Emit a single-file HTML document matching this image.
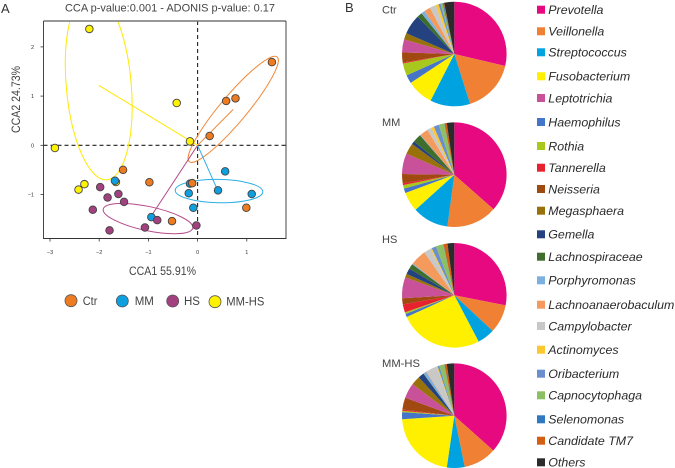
<!DOCTYPE html>
<html>
<head>
<meta charset="utf-8">
<style>
html,body{margin:0;padding:0;background:#fff;}
svg{display:block;font-family:"Liberation Sans",sans-serif;}
.leg text{font-style:italic;font-size:12.4px;fill:#2a2a2a;}
</style>
</head>
<body>
<svg id="fig" width="675" height="468" viewBox="0 0 675 468" xmlns="http://www.w3.org/2000/svg">
  <defs><clipPath id="plot-clip"><rect x="43.5" y="21" width="242.5" height="217.5"></rect></clipPath></defs>
  <text x="1" y="13" font-size="13" fill="#333">A</text>
  <text x="345" y="12" font-size="13" fill="#333">B</text>
  <text x="65" y="11.5" font-size="11.4" fill="#444" textLength="210" lengthAdjust="spacingAndGlyphs">CCA p-value:0.001 - ADONIS p-value: 0.17</text>
  <text x="129" y="275" font-size="11.5" fill="#444" textLength="67" lengthAdjust="spacingAndGlyphs">CCA1 55.91%</text>
  <text transform="translate(20,133) rotate(-90)" font-size="11.5" fill="#444" textLength="67" lengthAdjust="spacingAndGlyphs">CCA2 24.73%</text>

  <g id="scatter"></g>

  <g font-size="11.5" fill="#444">
    <circle cx="71" cy="300.7" r="6" fill="#ef7b21" stroke="#555" stroke-width="0.8"></circle>
    <text x="82.7" y="305" textLength="14.7" lengthAdjust="spacingAndGlyphs">Ctr</text>
    <circle cx="122.3" cy="301" r="6" fill="#0e9fe0" stroke="#555" stroke-width="0.8"></circle>
    <text x="134.7" y="305">MM</text>
    <circle cx="172.7" cy="301" r="6" fill="#a24080" stroke="#555" stroke-width="0.8"></circle>
    <text x="184" y="305">HS</text>
    <circle cx="215" cy="301.7" r="6" fill="#fff200" stroke="#555" stroke-width="0.8"></circle>
    <text x="226.3" y="305.5" textLength="38" lengthAdjust="spacingAndGlyphs">MM-HS</text>
  </g>

  <g id="pies"></g>
  <g font-size="11" fill="#444">
    <text x="382" y="13.5">Ctr</text>
    <text x="382" y="126">MM</text>
    <text x="382" y="243">HS</text>
    <text x="382" y="367" textLength="38" lengthAdjust="spacingAndGlyphs">MM-HS</text>
  </g>

  <g class="leg">
    <rect x="537" y="5.7" width="8" height="8" fill="#e6097f"></rect><text x="548.3" y="14">Prevotella</text>
    <rect x="537" y="27.3" width="8" height="8" fill="#f08033"></rect><text x="548.3" y="35.6">Veillonella</text>
    <rect x="537" y="48.3" width="8" height="8" fill="#00a3e0"></rect><text x="548.3" y="56.6">Streptococcus</text>
    <rect x="537" y="72.3" width="8" height="8" fill="#fff000"></rect><text x="548.3" y="80.6">Fusobacterium</text>
    <rect x="537" y="94" width="8" height="8" fill="#c9519a"></rect><text x="548.3" y="102.3">Leptotrichia</text>
    <rect x="537" y="118" width="8" height="8" fill="#4674c8"></rect><text x="548.3" y="126.3">Haemophilus</text>
    <rect x="537" y="142" width="8" height="8" fill="#a9c81e"></rect><text x="548.3" y="150.3">Rothia</text>
    <rect x="537" y="163.7" width="8" height="8" fill="#e8212f"></rect><text x="548.3" y="172">Tannerella</text>
    <rect x="537" y="185" width="8" height="8" fill="#a04a12"></rect><text x="548.3" y="193.3">Neisseria</text>
    <rect x="537" y="206.7" width="8" height="8" fill="#98710a"></rect><text x="548.3" y="215">Megasphaera</text>
    <rect x="537" y="230.3" width="8" height="8" fill="#23427f"></rect><text x="548.3" y="238.6">Gemella</text>
    <rect x="537" y="252.7" width="8" height="8" fill="#3f6d2b"></rect><text x="548.3" y="261">Lachnospiraceae</text>
    <rect x="537" y="276.3" width="8" height="8" fill="#7cb0e0"></rect><text x="548.3" y="284.6">Porphyromonas</text>
    <rect x="537" y="300.7" width="8" height="8" fill="#f39a5c"></rect><text x="548.3" y="309">Lachnoanaerobaculum</text>
    <rect x="537" y="322" width="8" height="8" fill="#c8c8c8"></rect><text x="548.3" y="330.3">Campylobacter</text>
    <rect x="537" y="345.7" width="8" height="8" fill="#fdc82f"></rect><text x="548.3" y="354">Actinomyces</text>
    <rect x="537" y="369.7" width="8" height="8" fill="#6a8fd0"></rect><text x="548.3" y="378">Oribacterium</text>
    <rect x="537" y="391.3" width="8" height="8" fill="#8cc063"></rect><text x="548.3" y="399.6">Capnocytophaga</text>
    <rect x="537" y="415.3" width="8" height="8" fill="#2f78c4"></rect><text x="548.3" y="423.6">Selenomonas</text>
    <rect x="537" y="436.7" width="8" height="8" fill="#d35f13"></rect><text x="548.3" y="445">Candidate TM7</text>
    <rect x="537" y="458.3" width="8" height="8" fill="#2b2b2b"></rect><text x="548.3" y="466.6">Others</text>
  </g>
</svg>
<script>
const xTicks = [-3, -2, -1, 0, 1];
const yTicks = [-1, 0, 1, 2];

const ctrX = [1.51, 0.77, 0.58, 0.245, -1.515, -0.98, -0.11, 0.99, -0.52];
const ctrY = [1.69, 0.955, 0.90, 0.19, -0.50, -0.75, -0.77, -1.27, -1.54];
const mmX = [0.56, -1.68, -0.155, -0.18, 0.415, 1.10, -0.087, -0.94];
const mmY = [-0.53, -0.72, -0.78, -0.975, -0.915, -0.99, -1.27, -1.46];
const hsX = [-1.98, -1.61, -1.83, -1.495, -2.13, -0.82, -1.07, -1.79, -0.025];
const hsY = [-0.85, -0.99, -1.06, -1.15, -1.31, -1.52, -1.67, -1.73, -1.63];
const mmhsX = [-2.2, -0.425, -0.155, -2.90, -2.30, -2.42, -1.66];
const mmhsY = [2.365, 0.86, 0.08, -0.055, -0.79, -0.90, -0.745];

const ellipseGroups = ['MM-HS', 'Ctr', 'MM', 'HS'];
const ellipseCenterX = [-2.01, 0.724, 0.435, -1.008];
const ellipseCenterY = [1.22, 0.73, -0.93, -1.49];
const ellipseMajor = [1.93, 1.39, 0.89, 0.93];
const ellipseMinor = [0.66, 0.27, 0.237, 0.245];
const ellipseAngle = [95, 50, -1, -12];
const centroidX = [-2.01, 0.724, 0.415, -0.95];
const centroidY = [1.22, 0.73, -0.93, -1.45];

const genera = ['Prevotella','Veillonella','Streptococcus','Fusobacterium','Haemophilus','Rothia','Tannerella','Neisseria','Leptotrichia','Megasphaera','Gemella','Lachnospiraceae','Porphyromonas','Lachnoanaerobaculum','Campylobacter','Actinomyces','Oribacterium','Capnocytophaga','Selenomonas','Candidate TM7','Others'];
const pieCtr = [28.7,16.4,12.4,8.2,2.6,3.8,0.3,3.1,4.0,2.0,6.1,1.6,1.1,2.0,1.9,0.9,0.7,0.6,0.3,0.2,3.1];
const pieMM = [36.5,15.6,11.2,6.0,1.4,1.1,0.6,2.8,6.4,3.4,1.0,2.6,0.2,2.6,1.3,0.9,1.6,1.7,0.1,0.7,2.3];
const pieHS = [28.1,8.8,5.4,25.9,1.0,0.5,2.5,1.9,6.5,1.1,1.8,1.6,0.3,4.9,2.2,0.4,1.4,2.3,0.1,1.2,2.1];
const pieMMHS = [36.6,10.2,5.5,21.6,2.2,0.4,0.4,3.7,4.7,2.8,1.8,0.1,0.9,0.2,3.4,0.3,0.6,1.5,0.1,0.7,2.3];

const NS = 'http://www.w3.org/2000/svg';
const X0 = 197.6, Y0 = 145.3, UNIT = 49.2;
const sx = v => X0 + v * UNIT;
const sy = v => Y0 - v * UNIT;
const scatter = document.getElementById('scatter');
const pies = document.getElementById('pies');

function mk(parent, tag, attrs) {
  const e = document.createElementNS(NS, tag);
  for (const k in attrs) e.setAttribute(k, attrs[k]);
  parent.appendChild(e);
  return e;
}

const L = 43.5, R = 286, T = 21, B = 238.5;
const groupColor = { 'Ctr': '#ef7b21', 'MM': '#0e9fe0', 'HS': '#a24080', 'MM-HS': '#fff200' };
const ringColor = { 'Ctr': '#f08a3c', 'MM': '#2eaee6', 'HS': '#b54a8b', 'MM-HS': '#ffe800' };

const bg = mk(scatter, 'rect', { x: L, y: T, width: R - L, height: B - T, fill: '#fff' });



const zeroH = mk(scatter, 'line', { x1: L, x2: R, y1: sy(0), y2: sy(0), stroke: '#222', 'stroke-width': 1.1, 'stroke-dasharray': '4 3' });


const zeroV = mk(scatter, 'line', { x1: sx(0), x2: sx(0), y1: T, y2: B, stroke: '#222', 'stroke-width': 1.1, 'stroke-dasharray': '4 3' });



ellipseGroups.forEach((g, i) => {
  const cx = sx(ellipseCenterX[i]), cy = sy(ellipseCenterY[i]);
  const wrap = mk(scatter, 'g', { 'clip-path': 'url(#plot-clip)' });
  const spoke = mk(wrap, 'line', { x1: sx(0), y1: sy(0), x2: sx(centroidX[i]), y2: sy(centroidY[i]), stroke: ringColor[g], 'stroke-width': 1 });
  
  
  const el = mk(wrap, 'ellipse', { cx: cx, cy: cy, rx: ellipseMajor[i] * UNIT, ry: ellipseMinor[i] * UNIT, fill: 'none', stroke: ringColor[g], 'stroke-width': 1, transform: 'rotate(' + (-ellipseAngle[i]) + ' ' + cx + ' ' + cy + ')' });
  
  
});

function drawPoints(xs, ys, g) {
  xs.forEach((x, i) => {
    const c = mk(scatter, 'circle', { cx: sx(x), cy: sy(ys[i]), r: 3.8, fill: groupColor[g], stroke: '#444', 'stroke-width': 0.9 });
    
    
  });
}
drawPoints(mmhsX, mmhsY, 'MM-HS');
drawPoints(mmX, mmY, 'MM');
drawPoints(ctrX, ctrY, 'Ctr');
drawPoints(hsX, hsY, 'HS');

const frameTop = mk(scatter, 'line', { x1: L, x2: R, y1: T, y2: T, stroke: '#777', 'stroke-width': 1.6 });


const frame = mk(scatter, 'path', { d: 'M' + L + ' ' + T + 'V' + B + 'H' + R + 'V' + T, fill: 'none', stroke: '#333', 'stroke-width': 0.9 });



xTicks.forEach(v => {
  const t = mk(scatter, 'line', { x1: sx(v), x2: sx(v), y1: B, y2: B + 3, stroke: '#333', 'stroke-width': 0.8 });
  
  
  const l = mk(scatter, 'text', { x: sx(v), y: 254, 'font-size': 5.5, fill: '#333', 'text-anchor': 'middle' });
  
  
  l.textContent = v < 0 ? '\u2212' + (-v) : String(v);
});
yTicks.forEach(v => {
  const t = mk(scatter, 'line', { x1: L - 3, x2: L, y1: sy(v), y2: sy(v), stroke: '#333', 'stroke-width': 0.8 });
  
  
  const l = mk(scatter, 'text', { x: 34, y: sy(v) + 2, 'font-size': 5.5, fill: '#333', 'text-anchor': 'end' });
  
  
  l.textContent = v < 0 ? '\u2212' + (-v) : String(v);
});

const sliceColor = { 'Prevotella':'#e6097f','Veillonella':'#f08033','Streptococcus':'#00a3e0','Fusobacterium':'#fff000','Haemophilus':'#4674c8','Rothia':'#a9c81e','Tannerella':'#e8212f','Neisseria':'#a04a12','Leptotrichia':'#c9519a','Megasphaera':'#98710a','Gemella':'#23427f','Lachnospiraceae':'#3f6d2b','Porphyromonas':'#7cb0e0','Lachnoanaerobaculum':'#f39a5c','Campylobacter':'#c8c8c8','Actinomyces':'#fdc82f','Oribacterium':'#6a8fd0','Capnocytophaga':'#8cc063','Selenomonas':'#2f78c4','Candidate TM7':'#d35f13','Others':'#2b2b2b' };

function drawPie(values, cx, cy, r) {
  const total = values.reduce((a, b) => a + b, 0);
  let cum = 0;
  values.forEach((v, i) => {
    const a0 = cum / total * 2 * Math.PI;
    cum += v;
    const a1 = cum / total * 2 * Math.PI;
    const large = (a1 - a0) > Math.PI ? 1 : 0;
    const d = 'M' + cx + ' ' + cy +
      'L' + (cx + r * Math.sin(a0)) + ' ' + (cy - r * Math.cos(a0)) +
      'A' + r + ' ' + r + ' 0 ' + large + ' 1 ' + (cx + r * Math.sin(a1)) + ' ' + (cy - r * Math.cos(a1)) + 'Z';
    const p = mk(pies, 'path', { d: d, fill: sliceColor[genera[i]] });
    
    
  });
}
drawPie(pieCtr, 454.3, 54, 52.3);
drawPie(pieMM, 454.3, 174.7, 52.3);
drawPie(pieHS, 454.3, 295.3, 52.3);
drawPie(pieMMHS, 454.3, 415.7, 52.3);
</script>
</body>
</html>
